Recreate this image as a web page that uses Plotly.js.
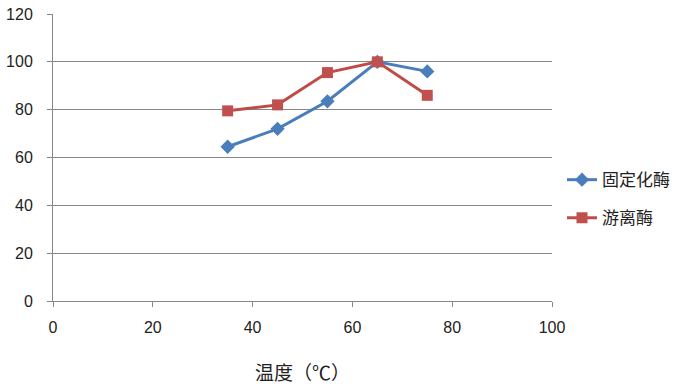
<!DOCTYPE html>
<html>
<head>
<meta charset="utf-8">
<script src="https://cdn.plot.ly/plotly-3.0.1.min.js"></script>
<style>html,body{margin:0;padding:0;background:#fff;}#chart{width:686px;height:391px;}</style>
</head>
<body>
<div id="chart"></div>
<script>
const temperatures = [35, 45, 55, 65, 75];
const immobilized = [64.5, 72, 83.5, 100, 96];
const free = [79.5, 82, 95.5, 100, 86];
const seriesNames = ["固定化酶", "游离酶"];
const xTicks = [0, 20, 40, 60, 80, 100];
const yTicks = [0, 20, 40, 60, 80, 100, 120];
const xTitle = '温度（℃）';

const fontFam = '"Liberation Sans", "Noto Sans CJK SC", sans-serif';
const cjk = '"Noto Sans CJK SC", sans-serif';

const traces = [
  {x: temperatures, y: immobilized, name: seriesNames[0], type: 'scatter', mode: 'lines+markers',
   legendgroup: 'a',
   line: {color: '#4A7EBB', width: 3}, marker: {symbol: 'diamond', size: 11, color: '#4A7EBB'}},
  {x: temperatures, y: free, name: seriesNames[1], type: 'scatter', mode: 'lines+markers',
   legendgroup: 'b',
   line: {color: '#BE4B48', width: 3}, marker: {symbol: 'square', size: 11, color: '#C0504D'}}
];

const layout = {
  width: 686, height: 391,
  margin: {l: 53, r: 133, t: 14, b: 90},
  paper_bgcolor: '#fff', plot_bgcolor: '#fff',
  font: {family: fontFam, size: 16, color: '#222'},
  showlegend: true,
  legend: {x: 1.018, y: 0.355, xanchor: 'left', yanchor: 'middle',
           traceorder: 'grouped', tracegroupgap: 13,
           font: {family: cjk, size: 17, color: '#222'}},
  xaxis: {range: [0, 100], tickvals: xTicks, ticktext: xTicks.map(String),
          showgrid: false, zeroline: false, showline: true, linecolor: '#868686', linewidth: 1,
          ticks: 'outside', ticklen: 5, tickcolor: '#868686', ticklabelstandoff: 7,
          tickfont: {family: fontFam, size: 16, color: '#222'}},
  yaxis: {range: [0, 120], tickvals: yTicks, ticktext: yTicks.map(String),
          showgrid: true, gridcolor: '#868686', gridwidth: 1, zeroline: false,
          showline: true, linecolor: '#868686', linewidth: 1,
          ticks: 'outside', ticklen: 5, tickcolor: '#868686', ticklabelstandoff: 11,
          tickfont: {family: fontFam, size: 16, color: '#222'}},
  annotations: [{text: xTitle, xref: 'paper', yref: 'paper', x: 0.5, y: -0.247,
                 xanchor: 'center', yanchor: 'middle', showarrow: false,
                 font: {family: cjk, size: 19, color: '#222'}}]
};

Plotly.newPlot('chart', traces, layout, {displayModeBar: false, staticPlot: true});
</script>
</body>
</html>
